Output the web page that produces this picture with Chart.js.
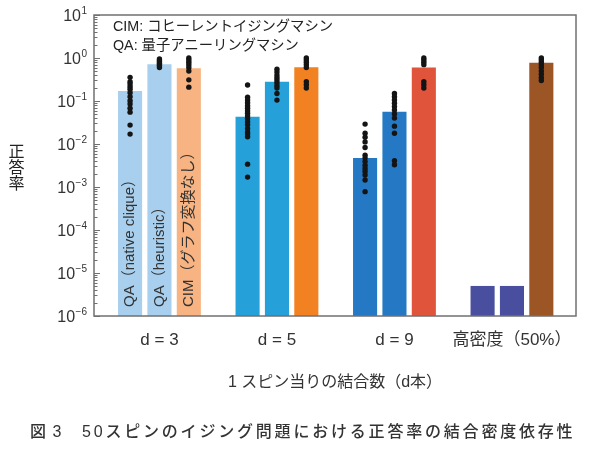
<!DOCTYPE html>
<html><head><meta charset="utf-8">
<script src="https://cdn.jsdelivr.net/npm/chart.js@4.4.1/dist/chart.umd.min.js"></script>
<style>html,body{margin:0;padding:0;background:#fff;}#wrap{position:relative;width:600px;height:458px;}</style>
</head><body><div id="wrap"><canvas id="c" width="600" height="458"></canvas></div>
<script>
// ---------- data ----------
const categories = ['d = 3', 'd = 5', 'd = 9', '高密度（50%）'];
const seriesNames = ['QA（native clique）', 'QA（heuristic）', 'CIM（グラフ変換なし）'];
const qaNativeRate = [0.17, 0.043, 0.0047, 0.000005];
const qaHeuristicRate = [0.72, 0.28, 0.056, 0.000005];
const cimRate = [0.58, 0.61, 0.6, 0.78];
const qaNativeDots = [
  [0.355, 0.28, 0.25, 0.215, 0.187, 0.155, 0.126, 0.102, 0.085, 0.068, 0.055, 0.0275, 0.017],
  [0.235, 0.122, 0.105, 0.091, 0.078, 0.068, 0.059, 0.052, 0.045, 0.039, 0.033, 0.028, 0.023, 0.019, 0.017, 0.0148, 0.0034, 0.0017],
  [0.029, 0.0178, 0.0144, 0.0112, 0.0083, 0.0055, 0.0047, 0.0039, 0.0032, 0.0027, 0.0023, 0.0019, 0.00145, 0.00078],
  []
];
const qaHeuristicDots = [
  [0.95, 0.88, 0.82, 0.76, 0.7, 0.65, 0.6],
  [0.55, 0.47, 0.4, 0.35, 0.31, 0.27, 0.23, 0.2, 0.15, 0.105],
  [0.15, 0.126, 0.106, 0.089, 0.074, 0.062, 0.05, 0.04, 0.026, 0.0178, 0.0041, 0.0033],
  []
];
const cimDots = [
  [1.0, 0.9, 0.8, 0.7, 0.6, 0.5, 0.31, 0.21],
  [1.0, 0.9, 0.8, 0.7, 0.6, 0.28, 0.24, 0.2],
  [1.0, 0.9, 0.8, 0.7, 0.28, 0.24, 0.2],
  [1.0, 0.9, 0.8, 0.7, 0.6, 0.5, 0.42, 0.35, 0.3]
];
const qaColors = ['#a8cfee', '#25a0d9', '#2579c4', '#4a4e9e'];
const cimColors = ['#f7b381', '#f28121', '#df543a', '#9c5524'];
const yTickExponents = [-6, -5, -4, -3, -2, -1, 0, 1];
const legendLines = ['CIM: コヒーレントイジングマシン', 'QA: 量子アニーリングマシン'];
const xTitle = '1 スピン当りの結合数（d本）';
const yTitle = '正答率';
const captionLabel = '図 3';
const captionText = '50スピンのイジング問題における正答率の結合密度依存性';

// ---------- chart ----------
const FONT = '"Liberation Sans", Arial, "Noto Sans CJK JP", sans-serif';
const barSets = [qaNativeRate, qaHeuristicRate, cimRate];
const dotSets = [qaNativeDots, qaHeuristicDots, cimDots];
const colorSets = [qaColors, qaColors, cimColors];
const CAT_PCT = 0.75, BAR_PCT = 0.82;
const slot = CAT_PCT / barSets.length;
const dotPoints = [];
dotSets.forEach((set, k) => set.forEach((vals, i) => vals.forEach(v => dotPoints.push({x: i + (k - 1) * slot, y: v}))));

const decor = {
  id: 'decor',
  afterDatasetsDraw(chart) {
    const {ctx, chartArea: a, scales: {y}} = chart;
    ctx.save();
    // labels inside the first group's bars
    ctx.fillStyle = '#333';
    ctx.font = '15px ' + FONT;
    seriesNames.forEach((name, k) => {
      const el = chart.getDatasetMeta(k + 1).data[0];
      ctx.save();
      ctx.translate(el.x, el.base - 9);
      ctx.rotate(-Math.PI / 2);
      ctx.textAlign = 'left';
      ctx.textBaseline = 'middle';
      ctx.fillText(name, 0, 0);
      ctx.restore();
    });
    // frame
    ctx.strokeStyle = '#707070';
    ctx.lineWidth = 1.5;
    ctx.strokeRect(a.left, a.top, a.right - a.left, a.bottom - a.top);
    // y ticks
    ctx.lineWidth = 1;
    y.ticks.forEach(t => {
      const py = Math.round(y.getPixelForValue(t.value)) + 0.5;
      const len = t.major ? 6 : 3.5;
      ctx.beginPath(); ctx.moveTo(a.left, py); ctx.lineTo(a.left + len, py); ctx.stroke();
    });
    // y tick labels 10^n
    ctx.fillStyle = '#333';
    yTickExponents.forEach(e => {
      const py = y.getPixelForValue(Math.pow(10, e));
      const exp = e < 0 ? '\u2212' + Math.abs(e) : String(e);
      ctx.font = '10px ' + FONT;
      const ew = ctx.measureText(exp).width;
      ctx.textAlign = 'right'; ctx.textBaseline = 'middle';
      ctx.fillText(exp, 87, py - 4);
      ctx.font = '16px ' + FONT;
      ctx.fillText('10', 87 - ew - 0.5, py + 1.5);
    });
    // y title (upright, vertical)
    ctx.font = '16px ' + FONT;
    ctx.fillStyle = '#222';
    ctx.textAlign = 'center'; ctx.textBaseline = 'middle';
    Array.from(yTitle).forEach((ch, i) => ctx.fillText(ch, 16.5, 152.5 + i * 16));
    // legend text
    ctx.font = '14.3px ' + FONT;
    ctx.textAlign = 'left';
    legendLines.forEach((t, i) => ctx.fillText(t, 113, 27.5 + i * 19));
    // caption
    ctx.font = '500 16px ' + FONT;
    ctx.fillStyle = '#333';
    try { ctx.letterSpacing = '1px'; } catch (e) {}
    ctx.fillText(captionLabel, 30, 433);
    try { ctx.letterSpacing = '2.8px'; } catch (e) {}
    ctx.fillText(captionText, 82, 433);
    ctx.restore();
  }
};

new Chart(document.getElementById('c'), {
  type: 'bar',
  data: {
    datasets: [
      {type: 'scatter', data: dotPoints, backgroundColor: '#141414', borderWidth: 0, pointRadius: 2.7, order: 0},
      ...barSets.map((vals, k) => ({
        type: 'bar', label: seriesNames[k],
        data: vals.map((v, i) => ({x: i, y: v})),
        backgroundColor: colorSets[k], borderWidth: 0,
        categoryPercentage: CAT_PCT, barPercentage: BAR_PCT, order: 1
      }))
    ]
  },
  options: {
    responsive: false, animation: false,
    layout: {padding: {top: 15, right: 24, left: 0, bottom: 0}},
    plugins: {legend: {display: false}, tooltip: {enabled: false}},
    scales: {
      x: {
        type: 'linear', min: -0.557, max: 3.545, offset: false,
        afterBuildTicks: s => { s.ticks = categories.map((_, i) => ({value: i})); },
        afterFit: s => { s.height = 142; },
        ticks: {callback: v => categories[v] ?? '', font: {size: 17, family: FONT}, color: '#333', padding: 14, maxRotation: 0, autoSkip: false},
        grid: {display: false, drawTicks: false, offset: false},
        border: {display: false},
        title: {display: true, text: xTitle, font: {size: 16, family: FONT}, color: '#333', padding: {top: 0, bottom: 65.4}}
      },
      y: {
        type: 'logarithmic', min: 1e-6, max: 10,
        afterBuildTicks: s => {
          const t = [];
          yTickExponents.forEach(e => {
            if (e === yTickExponents[yTickExponents.length - 1]) { t.push({value: Math.pow(10, e), major: true}); return; }
            for (let m = 1; m <= 9; m++) t.push({value: m * Math.pow(10, e), major: m === 1});
          });
          s.ticks = t;
        },
        afterFit: s => { s.width = 94; },
        ticks: {display: false},
        grid: {display: false},
        border: {display: false}
      }
    }
  },
  plugins: [decor]
});
</script></body></html>
